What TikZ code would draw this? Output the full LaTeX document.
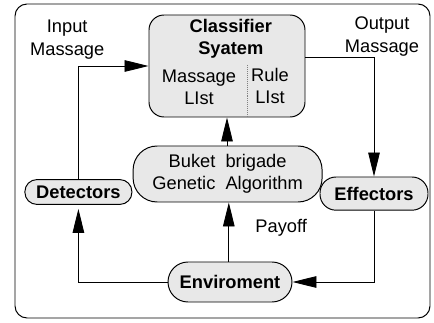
\documentclass[tikz,border=0pt]{standalone}
\usepackage{fontspec}
\setmainfont{Liberation Sans}
\usetikzlibrary{arrows.meta,positioning,calc}

\begin{document}
\begin{tikzpicture}[
  font=\fontsize{13}{16}\selectfont,
  box/.style={draw,fill=gray!18,line width=0.7pt},
  arr/.style={-{Triangle[length=0.6cm,width=0.29cm]},line width=0.6pt}
]
\useasboundingbox (0,0) rectangle (10.85,8.05);

% outer frame
\draw[line width=0.7pt,rounded corners=0.3cm] (0.375,0.1) rectangle (10.75,7.95);

% Classifier system
\node[box,rounded corners=0.375cm,minimum width=3.9cm,minimum height=2.55cm] (cs) at (5.675,6.4) {};
\node[font=\fontsize{13}{15.5}\selectfont\bfseries,align=center] (cstitle) at (5.77,7.08) {Classifier\\Syatem};
\node[align=center] (mlist) at (4.975,5.87) {Massage\\LIst};
\node[align=center] (rlist) at (6.75,5.9) {Rule\\LIst};
\coordinate (div) at (6.175,6.425);
\draw[densely dotted,gray] (div) -- (div |- cs.south);

% Bucket brigade / GA
\node[box,rounded corners=0.6cm,minimum width=4.725cm,minimum height=1.4cm,align=center] (bb) at (5.69,3.7) {Buket\ \ brigade\\Genetic\ \ Algorithm};

% Detectors, Effectors, Environment
\node[box,rounded corners=0.3cm,minimum width=2.675cm,minimum height=0.62cm,inner sep=1pt,font=\fontsize{13}{16}\selectfont\bfseries] (det) at (1.96,3.25) {Detectors};
\node[box,rounded corners=0.4cm,minimum width=2.7cm,minimum height=0.83cm,font=\fontsize{13}{16}\selectfont\bfseries] (eff) at (9.35,3.21) {Effectors};
\node[box,rounded corners=0.5cm,minimum width=3.1cm,minimum height=1.0cm,font=\fontsize{13}{16}\selectfont\bfseries] (env) at (5.75,1.0) {Enviroment};

% labels
\node[align=center] (inlab) at (1.68,7.06) {Input\\Massage};
\node[align=center] (outlab) at (9.55,7.14) {Output\\Massage};
\node (pay) at (7.03,2.35) {Payoff};

% connections
\coordinate (px) at (5.72,0);
\draw[arr] (det.north) |- (cs.west);
\draw[arr] ([yshift=0.225cm]cs.east) -| (eff.north);
\draw[arr] (bb.north -| cs.south) -- (cs.south);
\draw[arr] (env.north -| px) -- (bb.south -| px);
\draw[arr] (eff.south) |- (env.east);
\draw[arr,shorten >=0.1cm] (env.west) -| (det.south);
\end{tikzpicture}
\end{document}
